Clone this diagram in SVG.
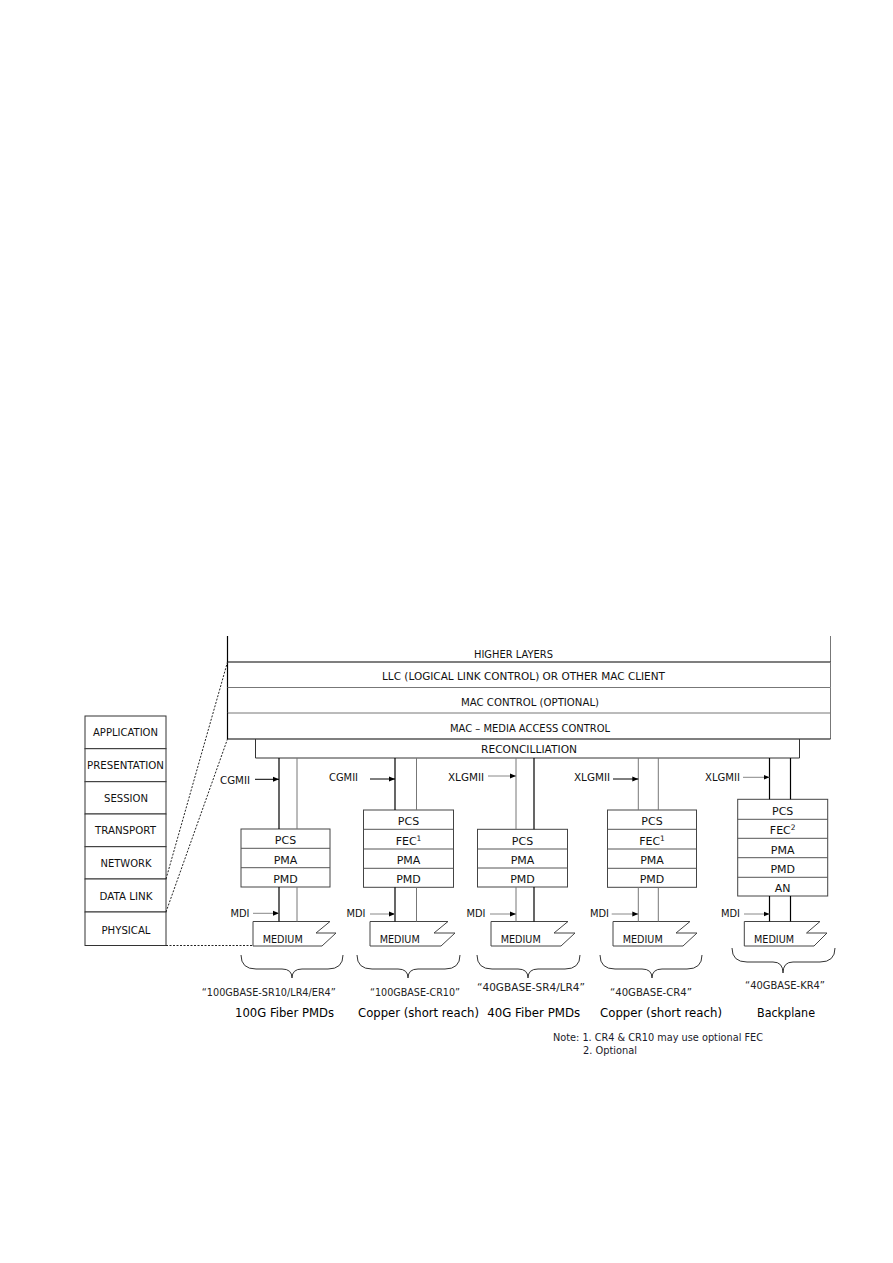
<svg xmlns="http://www.w3.org/2000/svg" width="893" height="1263" viewBox="0 0 893 1263">
<defs>
<style>
text{font-family:"DejaVu Sans","Liberation Sans",Arial,sans-serif;fill:#111}
.t10{font-size:10px;text-anchor:middle}
.med-t{font-size:10.5px;text-anchor:middle}
.t11{font-size:11px;text-anchor:middle}
.lbl{font-size:10.5px;text-anchor:middle;fill:#222}
.big{font-size:12.5px;text-anchor:middle;fill:#000}
.note{font-size:10px;fill:#1a1a2a}
.box{fill:#fff;stroke:#444;stroke-width:1}
.div{stroke:#555;stroke-width:1}
.osi{fill:#fff;stroke:#333;stroke-width:1}
.blk{stroke:#000;stroke-width:1.2}
.gry{stroke:#777;stroke-width:1}
.med{fill:#fff;stroke:#444;stroke-width:1}
.dot{fill:none;stroke:#222;stroke-width:1;stroke-dasharray:2,1.5}
.brace{fill:none;stroke:#333;stroke-width:1}
.arr{stroke:#000;stroke-width:1;marker-end:url(#ah)}
.arrg{stroke:#888;stroke-width:1;marker-end:url(#ah)}
</style>
<marker id="ah" markerWidth="7" markerHeight="6" refX="6" refY="3" orient="auto" markerUnits="userSpaceOnUse">
<path d="M0,0.5 L6,3 L0,5.5 Z" fill="#000"/>
</marker>
</defs>
<rect width="893" height="1263" fill="#fff"/>

<!-- OSI stack -->
<g id="osi-stack">
<g id="osi-application"><rect class="osi" x="85" y="716" width="81" height="32.7"/><text class="t10" x="125.5" y="736" textLength="65" lengthAdjust="spacingAndGlyphs">APPLICATION</text></g>
<g id="osi-presentation"><rect class="osi" x="85" y="748.7" width="81" height="33"/><text class="t10" x="125.5" y="769" textLength="77" lengthAdjust="spacingAndGlyphs">PRESENTATION</text></g>
<g id="osi-session"><rect class="osi" x="85" y="781.7" width="81" height="32.3"/><text class="t10" x="126" y="801.7" textLength="44" lengthAdjust="spacingAndGlyphs">SESSION</text></g>
<g id="osi-transport"><rect class="osi" x="85" y="814" width="81" height="32.7"/><text class="t10" x="125.5" y="834" textLength="61" lengthAdjust="spacingAndGlyphs">TRANSPORT</text></g>
<g id="osi-network"><rect class="osi" x="85" y="846.7" width="81" height="32.3"/><text class="t10" x="126" y="866.7" textLength="51" lengthAdjust="spacingAndGlyphs">NETWORK</text></g>
<g id="osi-datalink"><rect class="osi" x="85" y="879" width="81" height="33"/><text class="t10" x="126" y="899.5" textLength="53" lengthAdjust="spacingAndGlyphs">DATA LINK</text></g>
<g id="osi-physical"><rect class="osi" x="85" y="912" width="81" height="33.5"/><text class="t10" x="126" y="933.5" textLength="49" lengthAdjust="spacingAndGlyphs">PHYSICAL</text></g>
</g>

<!-- Upper layers -->
<g id="higher-layers">
<line class="blk" x1="227.5" y1="636" x2="227.5" y2="662"/>
<line class="gry" x1="830.5" y1="636" x2="830.5" y2="662"/>
<text class="t10" x="513.5" y="657.7" textLength="79" lengthAdjust="spacingAndGlyphs">HIGHER LAYERS</text>
</g>
<g id="llc">
<line class="blk" x1="227.5" y1="662" x2="830.5" y2="662"/>
<line class="blk" x1="227.5" y1="662" x2="227.5" y2="687.5"/>
<line class="gry" x1="830.5" y1="662" x2="830.5" y2="687.5"/>
<text class="t10" x="523.5" y="680" textLength="283" lengthAdjust="spacingAndGlyphs">LLC (LOGICAL LINK CONTROL) OR OTHER MAC CLIENT</text>
</g>
<g id="mac-control">
<line class="gry" x1="227.5" y1="687.5" x2="830.5" y2="687.5"/>
<line class="blk" x1="227.5" y1="687.5" x2="227.5" y2="713"/>
<line class="gry" x1="830.5" y1="687.5" x2="830.5" y2="713"/>
<text class="t10" x="530" y="706" textLength="138" lengthAdjust="spacingAndGlyphs">MAC CONTROL (OPTIONAL)</text>
</g>
<g id="mac">
<line class="gry" x1="227.5" y1="713" x2="830.5" y2="713"/>
<line class="blk" x1="227.5" y1="713" x2="227.5" y2="739"/>
<line class="gry" x1="830.5" y1="713" x2="830.5" y2="739"/>
<line class="blk" x1="227.5" y1="739" x2="830.5" y2="739"/>
<text class="t10" x="530" y="731.7" textLength="160" lengthAdjust="spacingAndGlyphs">MAC – MEDIA ACCESS CONTROL</text>
</g>
<g id="reconciliation">
<path d="M255.5,739 V758 H799.5 V739" fill="none" stroke="#333" stroke-width="1"/>
<text class="t10" x="529" y="753.3" textLength="96" lengthAdjust="spacingAndGlyphs">RECONCILLIATION</text>
</g>

<!-- Column 1 -->
<g id="col1-sublayers">
<rect class="box" x="241" y="829" width="89" height="58"/>
<line class="div" x1="241" y1="848.3" x2="330" y2="848.3"/>
<line class="div" x1="241" y1="867.7" x2="330" y2="867.7"/>
<text class="t11" x="285.5" y="844">PCS</text>
<text class="t11" x="285.5" y="863.5">PMA</text>
<text class="t11" x="285.5" y="882.7">PMD</text>
</g>
<g id="col1-medium">
<path class="med" d="M253,921.5 H330 L316,933 H336 L322,946 H253 Z"/>
<text class="med-t" x="282.7" y="942.5" textLength="40" lengthAdjust="spacingAndGlyphs">MEDIUM</text>
</g>

<!-- Column 2 -->
<g id="col2-sublayers">
<rect class="box" x="363.5" y="810" width="90" height="77.3"/>
<line class="div" x1="363.5" y1="829.3" x2="453.5" y2="829.3"/>
<line class="div" x1="363.5" y1="849" x2="453.5" y2="849"/>
<line class="div" x1="363.5" y1="868.3" x2="453.5" y2="868.3"/>
<text class="t11" x="408.5" y="825">PCS</text>
<text class="t11" x="408.5" y="844.5">FEC<tspan font-size="7.5" dy="-4">1</tspan></text>
<text class="t11" x="408.5" y="864">PMA</text>
<text class="t11" x="408.5" y="883.3">PMD</text>
</g>
<g id="col2-medium">
<path class="med" d="M370,921.5 H448 L434,933 H455 L441,946 H370 Z"/>
<text class="med-t" x="399.7" y="942.5" textLength="40" lengthAdjust="spacingAndGlyphs">MEDIUM</text>
</g>

<!-- Column 3 -->
<g id="col3-sublayers">
<rect class="box" x="477.5" y="829.3" width="90" height="57.7"/>
<line class="div" x1="477.5" y1="849" x2="567.5" y2="849"/>
<line class="div" x1="477.5" y1="868" x2="567.5" y2="868"/>
<text class="t11" x="522.5" y="844.5">PCS</text>
<text class="t11" x="522.5" y="864">PMA</text>
<text class="t11" x="522.5" y="883">PMD</text>
</g>
<g id="col3-medium">
<path class="med" d="M491,921.5 H568 L554,933 H575 L561,946 H491 Z"/>
<text class="med-t" x="520.7" y="942.5" textLength="40" lengthAdjust="spacingAndGlyphs">MEDIUM</text>
</g>

<!-- Column 4 -->
<g id="col4-sublayers">
<rect class="box" x="607.5" y="810" width="89" height="77.3"/>
<line class="div" x1="607.5" y1="829.3" x2="696.5" y2="829.3"/>
<line class="div" x1="607.5" y1="849" x2="696.5" y2="849"/>
<line class="div" x1="607.5" y1="868.3" x2="696.5" y2="868.3"/>
<text class="t11" x="652" y="825">PCS</text>
<text class="t11" x="652" y="844.5">FEC<tspan font-size="7.5" dy="-4">1</tspan></text>
<text class="t11" x="652" y="864">PMA</text>
<text class="t11" x="652" y="883.3">PMD</text>
</g>
<g id="col4-medium">
<path class="med" d="M613,921.5 H690 L676,933 H697 L683,946 H613 Z"/>
<text class="med-t" x="642.7" y="942.5" textLength="40" lengthAdjust="spacingAndGlyphs">MEDIUM</text>
</g>

<!-- Column 5 -->
<g id="col5-sublayers">
<rect class="box" x="737.7" y="799.3" width="90" height="96.7"/>
<line class="div" x1="737.7" y1="819.3" x2="827.7" y2="819.3"/>
<line class="div" x1="737.7" y1="838.3" x2="827.7" y2="838.3"/>
<line class="div" x1="737.7" y1="857.7" x2="827.7" y2="857.7"/>
<line class="div" x1="737.7" y1="877.3" x2="827.7" y2="877.3"/>
<text class="t11" x="782.7" y="815">PCS</text>
<text class="t11" x="782.7" y="834">FEC<tspan font-size="7.5" dy="-4">2</tspan></text>
<text class="t11" x="782.7" y="853.5">PMA</text>
<text class="t11" x="782.7" y="872.7">PMD</text>
<text class="t11" x="782.7" y="892">AN</text>
</g>
<g id="col5-medium">
<path class="med" d="M744.3,921.5 H820 L806.5,933 H827 L814,946 H744.3 Z"/>
<text class="med-t" x="774" y="942.5" textLength="40" lengthAdjust="spacingAndGlyphs">MEDIUM</text>
</g>

<!-- Interface labels -->
<g id="interface-labels">
<text class="t10" x="235" y="784" textLength="30" lengthAdjust="spacingAndGlyphs">CGMII</text>
<text class="t10" x="343.5" y="781" textLength="29" lengthAdjust="spacingAndGlyphs">CGMII</text>
<text class="t10" x="466" y="781" textLength="36" lengthAdjust="spacingAndGlyphs">XLGMII</text>
<text class="t10" x="592" y="781" textLength="36" lengthAdjust="spacingAndGlyphs">XLGMII</text>
<text class="t10" x="722.5" y="781" textLength="35" lengthAdjust="spacingAndGlyphs">XLGMII</text>
<text class="t10" x="240" y="917" textLength="19" lengthAdjust="spacingAndGlyphs">MDI</text>
<text class="t10" x="356" y="917" textLength="19" lengthAdjust="spacingAndGlyphs">MDI</text>
<text class="t10" x="476" y="917" textLength="19" lengthAdjust="spacingAndGlyphs">MDI</text>
<text class="t10" x="599.5" y="917" textLength="19" lengthAdjust="spacingAndGlyphs">MDI</text>
<text class="t10" x="730.5" y="917" textLength="19" lengthAdjust="spacingAndGlyphs">MDI</text>
</g>

<!-- Bottom labels -->
<g id="phy-labels">
<text class="lbl" x="268.8" y="996" textLength="134" lengthAdjust="spacingAndGlyphs">“100GBASE-SR10/LR4/ER4”</text>
<text class="lbl" x="415" y="996" textLength="90" lengthAdjust="spacingAndGlyphs">“100GBASE-CR10”</text>
<text class="lbl" x="531" y="991" textLength="108" lengthAdjust="spacingAndGlyphs">“40GBASE-SR4/LR4”</text>
<text class="lbl" x="651" y="996" textLength="82" lengthAdjust="spacingAndGlyphs">“40GBASE-CR4”</text>
<text class="lbl" x="785" y="989" textLength="80" lengthAdjust="spacingAndGlyphs">“40GBASE-KR4”</text>
<text class="big" x="284.5" y="1017" textLength="99" lengthAdjust="spacingAndGlyphs">100G Fiber PMDs</text>
<text class="big" x="418.5" y="1017" textLength="121" lengthAdjust="spacingAndGlyphs">Copper (short reach)</text>
<text class="big" x="533.7" y="1017" textLength="93" lengthAdjust="spacingAndGlyphs">40G Fiber PMDs</text>
<text class="big" x="661" y="1017" textLength="122" lengthAdjust="spacingAndGlyphs">Copper (short reach)</text>
<text class="big" x="786" y="1017" textLength="58" lengthAdjust="spacingAndGlyphs">Backplane</text>
</g>
<g id="notes">
<text class="note" x="553" y="1040.5" textLength="210" lengthAdjust="spacingAndGlyphs">Note: 1. CR4 &amp; CR10 may use optional FEC</text>
<text class="note" x="583" y="1054" textLength="54" lengthAdjust="spacingAndGlyphs">2. Optional</text>
</g>

<!-- Connectors -->
<g id="connectors">
<line class="dot" x1="166" y1="879" x2="227.5" y2="662"/>
<line class="dot" x1="166" y1="912" x2="227.5" y2="739"/>
<line class="dot" x1="166" y1="945.5" x2="253" y2="945.5"/>

<line class="blk" x1="279" y1="758" x2="279" y2="829"/>
<line class="gry" x1="297" y1="758" x2="297" y2="829"/>
<line class="blk" x1="279" y1="887" x2="279" y2="921.5"/>
<line class="gry" x1="297" y1="887" x2="297" y2="921.5"/>

<line class="blk" x1="395" y1="758" x2="395" y2="810"/>
<line class="gry" x1="416.5" y1="758" x2="416.5" y2="810"/>
<line class="blk" x1="395" y1="887.3" x2="395" y2="921.5"/>
<line class="gry" x1="416.5" y1="887.3" x2="416.5" y2="921.5"/>

<line class="gry" x1="516" y1="758" x2="516" y2="829.3"/>
<line class="blk" x1="534" y1="758" x2="534" y2="829.3"/>
<line class="gry" x1="516" y1="887" x2="516" y2="921.5"/>
<line class="blk" x1="534" y1="887" x2="534" y2="921.5"/>

<line class="gry" x1="638.3" y1="758" x2="638.3" y2="810"/>
<line class="gry" x1="658.3" y1="758" x2="658.3" y2="810"/>
<line class="gry" x1="638.3" y1="887.3" x2="638.3" y2="921.5"/>
<line class="gry" x1="658.3" y1="887.3" x2="658.3" y2="921.5"/>

<line class="blk" x1="769.5" y1="758" x2="769.5" y2="799.3"/>
<line class="blk" x1="790.5" y1="758" x2="790.5" y2="799.3"/>
<line class="blk" x1="769.5" y1="896" x2="769.5" y2="921.5"/>
<line class="blk" x1="790.5" y1="896" x2="790.5" y2="921.5"/>

<line class="arr" x1="255" y1="779.3" x2="279" y2="779.3"/>
<line class="arr" x1="370" y1="779" x2="395" y2="779"/>
<line class="arrg" x1="488" y1="776" x2="516" y2="776"/>
<line class="arr" x1="613" y1="779" x2="638.3" y2="779"/>
<line class="arrg" x1="743" y1="777.3" x2="769.5" y2="777.3"/>
<line class="arrg" x1="253" y1="913.3" x2="279" y2="913.3"/>
<line class="arrg" x1="370" y1="914" x2="395" y2="914"/>
<line class="arrg" x1="490" y1="914" x2="516" y2="914"/>
<line class="arrg" x1="611.7" y1="914" x2="638.3" y2="914"/>
<line class="arrg" x1="744" y1="914" x2="769.5" y2="914"/>

<path class="brace" d="M241,955 Q241,969 256,969 H282 Q292,969 292,978 Q292,969 302,969 H328 Q343,969 343,955"/>
<path class="brace" d="M357,955 Q357,969 372,969 H398 Q408,969 408,978 Q408,969 418,969 H445 Q460,969 460,955"/>
<path class="brace" d="M477,955 Q477,969 492,969 H518 Q528,969 528,978 Q528,969 538,969 H565 Q580,969 580,955"/>
<path class="brace" d="M600,955 Q600,969 615,969 H642 Q652,969 652,978 Q652,969 662,969 H687 Q702,969 702,955"/>
<path class="brace" d="M732,948 Q732,962 747,962 H773 Q783,962 783,973 Q783,962 793,962 H820 Q835,962 835,948"/>
</g>
</svg>
